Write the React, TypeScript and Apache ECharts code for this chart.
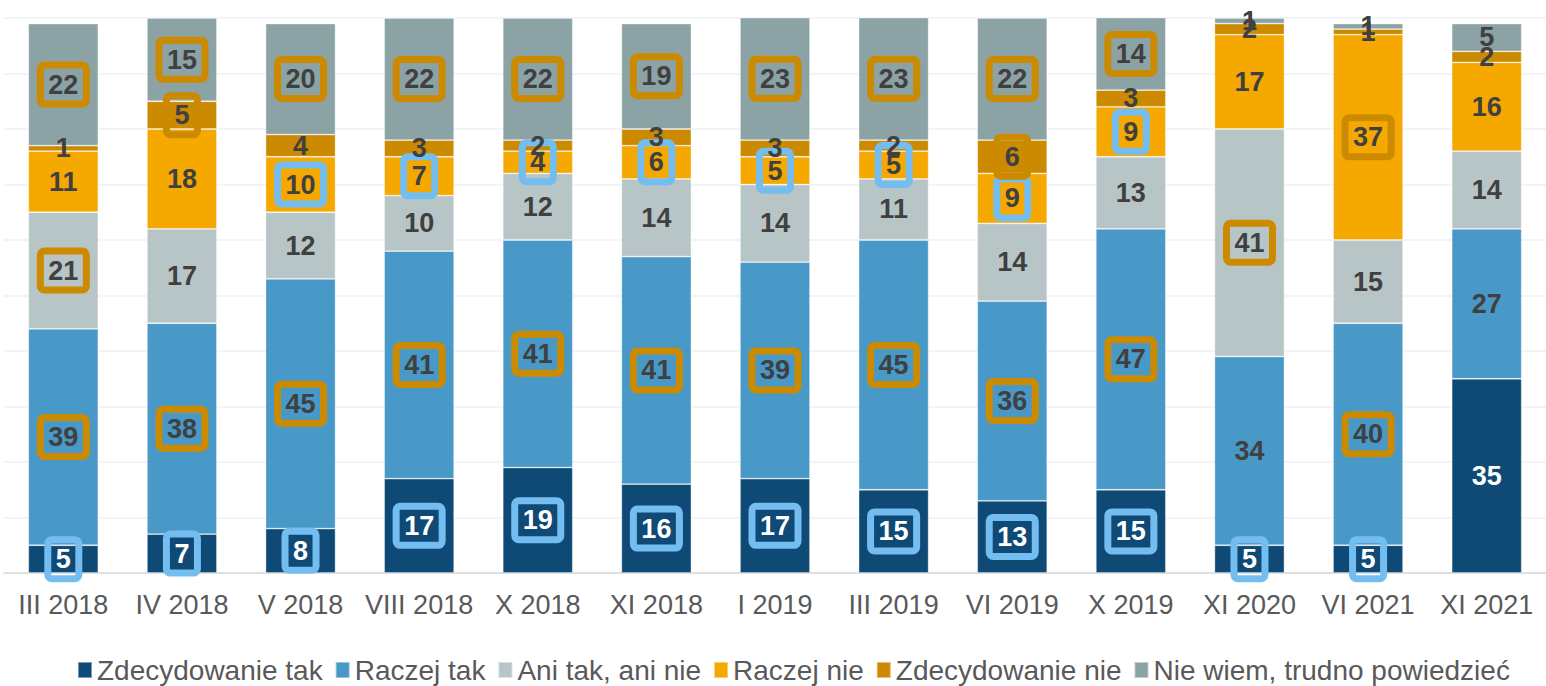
import React, { useEffect, useRef } from "react";
import * as echarts from "echarts";

const categories = [
  "III 2018", "IV 2018", "V 2018", "VIII 2018", "X 2018", "XI 2018", "I 2019",
  "III 2019", "VI 2019", "X 2019", "XI 2020", "VI 2021", "XI 2021",
];

const seriesNames = [
  "Zdecydowanie tak",
  "Raczej tak",
  "Ani tak, ani nie",
  "Raczej nie",
  "Zdecydowanie nie",
  "Nie wiem, trudno powiedzieć",
];

const zdecydowanieTak = [5, 7, 8, 17, 19, 16, 17, 15, 13, 15, 5, 5, 35];
const raczejTak = [39, 38, 45, 41, 41, 41, 39, 45, 36, 47, 34, 40, 27];
const aniTakAniNie = [21, 17, 12, 10, 12, 14, 14, 11, 14, 13, 41, 15, 14];
const raczejNie = [11, 18, 10, 7, 4, 6, 5, 5, 9, 9, 17, 37, 16];
const zdecydowanieNie = [1, 5, 4, 3, 2, 3, 3, 2, 6, 3, 2, 1, 2];
const nieWiem = [22, 15, 20, 22, 22, 19, 23, 23, 22, 14, 1, 1, 5];

// Highlight markers: "o" = brown box, "b" = blue box, "" = none
const boxZdecTak = ["b", "b", "b", "b", "b", "b", "b", "b", "b", "b", "b", "b", ""];
const boxRaczejTak = ["o", "o", "o", "o", "o", "o", "o", "o", "o", "o", "", "o", ""];
const boxAni = ["o", "", "", "", "", "", "", "", "", "", "o", "", ""];
const boxRaczejNie = ["", "", "b", "b", "b", "b", "b", "b", "b", "b", "", "o", ""];
const boxZdecNie = ["", "o", "", "", "", "", "", "", "o", "", "", "", ""];
const boxNieWiem = ["o", "o", "o", "o", "o", "o", "o", "o", "o", "o", "", "", ""];

const values = [zdecydowanieTak, raczejTak, aniTakAniNie, raczejNie, zdecydowanieNie, nieWiem];
const boxes = [boxZdecTak, boxRaczejTak, boxAni, boxRaczejNie, boxZdecNie, boxNieWiem];

const colors = ["#0E4A75", "#4898C8", "#B8C5C7", "#F5A800", "#CC8A00", "#8CA3A5"];
const boxColors: Record<string, string> = { o: "#CC8A00", b: "#74BDF0" };
const FONT = "'Liberation Sans', Arial, sans-serif";

export default function App() {
  const ref = useRef<HTMLDivElement>(null);
  useEffect(() => {
    if (!ref.current) return;
    const chart = echarts.init(ref.current, undefined, { renderer: "svg" });
    const series = values.map((vals, si) => ({
      name: seriesNames[si],
      type: "bar",
      stack: "total",
      barWidth: 70,
      clip: true,
      itemStyle: {
        color: colors[si],
        borderColor: "rgba(255,255,255,0.45)",
        borderWidth: 0.8,
      },
      label: {
        show: true,
        position: "inside",
        fontFamily: FONT,
        fontSize: 27,
        fontWeight: "bold",
        lineHeight: 27,
        color: si === 0 ? "#FFFFFF" : "#404040",
      },
      data: vals.map((v, i) => {
        const b = boxes[si][i];
        if (!b) return { value: v };
        return {
          value: v,
          label: {
            borderColor: boxColors[b],
            borderWidth: 7,
            borderRadius: 4,
            padding: [6, 8],
          },
        };
      }),
    }));

    chart.setOption({
      animation: false,
      backgroundColor: "#FFFFFF",
      color: colors,
      grid: { left: 4, right: -14, top: 18, bottom: 113, containLabel: false },
      legend: {
        data: seriesNames,
        left: 72,
        top: 651,
        icon: "rect",
        itemWidth: 14,
        itemHeight: 16,
        itemGap: 12,
        textStyle: { fontFamily: FONT, fontSize: 28, color: "#595959" },
      },
      xAxis: {
        type: "category",
        data: categories,
        axisTick: { show: false },
        axisLine: { lineStyle: { color: "#D9D9D9", width: 1.5 } },
        axisLabel: {
          interval: 0,
          fontFamily: FONT,
          fontSize: 27,
          color: "#595959",
          margin: 18,
        },
      },
      yAxis: {
        type: "value",
        min: 0,
        max: 100,
        interval: 10,
        axisLabel: { show: false },
        axisLine: { show: false },
        axisTick: { show: false },
        splitLine: { lineStyle: { color: "#EEF1F5", width: 1.5 } },
      },
      series,
    });
    return () => chart.dispose();
  }, []);
  return (
    <div
      ref={ref}
      style={{ position: "absolute", left: 0, top: 0, width: 1546, height: 686 }}
    />
  );
}
